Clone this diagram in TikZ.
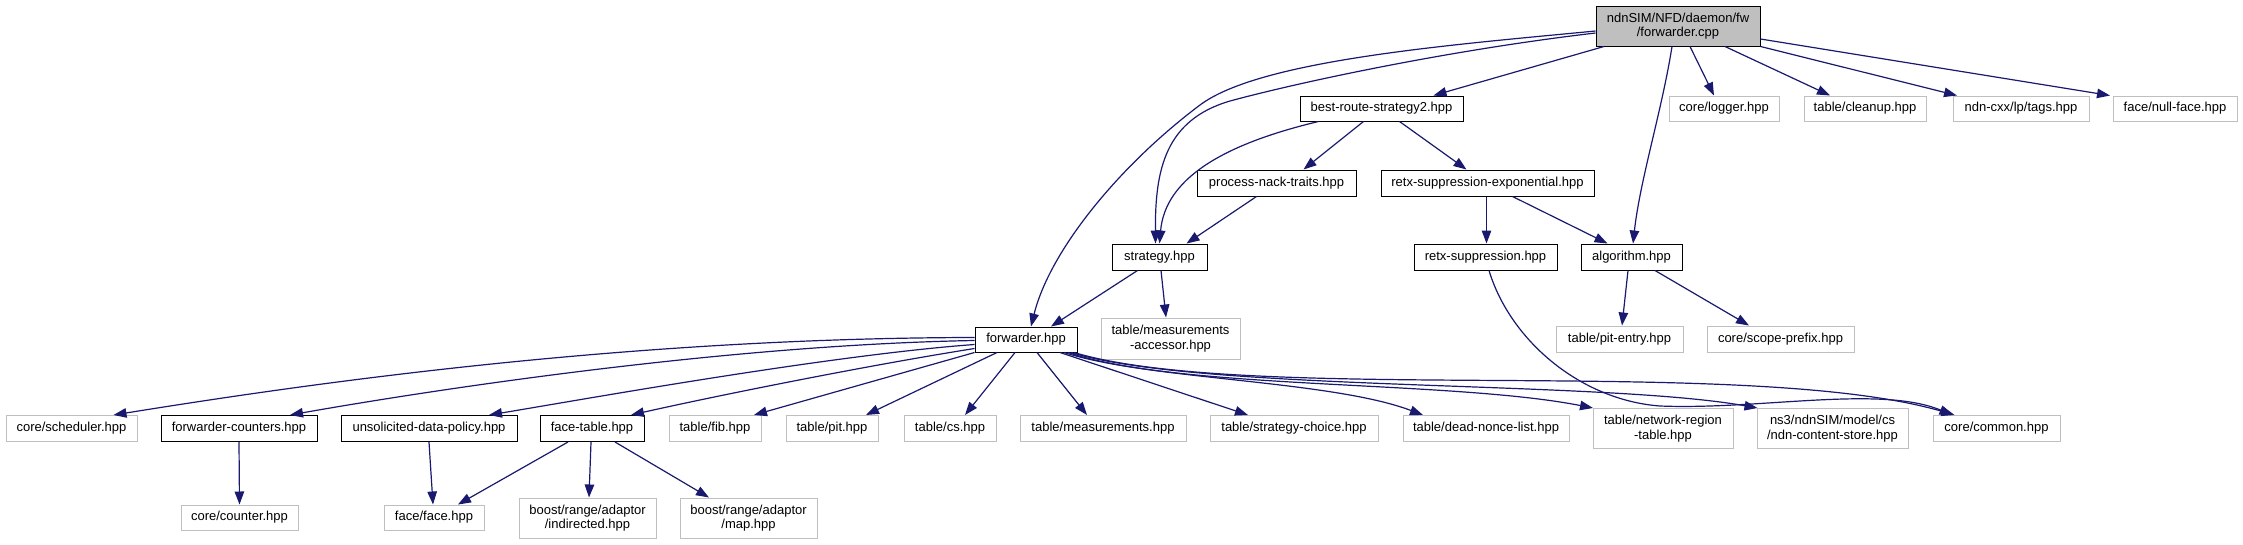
\documentclass[tikz,border=0pt]{standalone}
\usepackage{fontspec}
\setmainfont{Liberation Sans}
\usetikzlibrary{arrows.meta,calc}
\definecolor{edgeblue}{HTML}{191970}
\definecolor{lgray}{HTML}{BFBFBF}
\begin{document}
\begin{tikzpicture}[x=1pt,y=-1pt,
  box/.style={draw=black,line width=1pt,inner sep=0pt,font=\fontsize{13}{14.5}\selectfont,align=center,fill=white},
  ubox/.style={box,draw=lgray},
  dep/.style={draw=edgeblue,line width=1.2pt,-{Triangle[length=13pt,width=9.5pt]}},
]
\useasboundingbox[fill=white] (0,0) rectangle (2243,544);
% row 1
\node[box,fill=lgray,minimum width=164pt,minimum height=40pt] (root) at (1678,26) {ndnSIM/NFD/daemon/fw\\/forwarder.cpp};
% row 2
\node[box,minimum width=163pt,minimum height=25pt] (br) at (1381.5,108.5) {best-route-strategy2.hpp};
\node[ubox,minimum width=110pt,minimum height=25pt] (logger) at (1724,108.5) {core/logger.hpp};
\node[ubox,minimum width=122pt,minimum height=25pt] (cleanup) at (1865,108.5) {table/cleanup.hpp};
\node[ubox,minimum width=136pt,minimum height=25pt] (tags) at (2021,108.5) {ndn-cxx/lp/tags.hpp};
\node[ubox,minimum width=124pt,minimum height=25pt] (nullface) at (2175,108.5) {face/null-face.hpp};
% row 3
\node[box,minimum width=159pt,minimum height=26pt] (pnt) at (1276.5,183) {process-nack-traits.hpp};
\node[box,minimum width=213pt,minimum height=26pt] (rse) at (1487.5,183) {retx-suppression-exponential.hpp};
% row 4
\node[box,minimum width=95pt,minimum height=26pt] (strat) at (1159.5,257) {strategy.hpp};
\node[box,minimum width=143pt,minimum height=26pt] (rs) at (1485.5,257) {retx-suppression.hpp};
\node[box,minimum width=101pt,minimum height=26pt] (algo) at (1631.5,257) {algorithm.hpp};
% row 5
\node[ubox,minimum width=139pt,minimum height=41pt] (macc) at (1170.5,338.5) {table/measurements\\-accessor.hpp};
\node[box,minimum width=102pt,minimum height=25pt] (fwd) at (1026,339.5) {forwarder.hpp};
\node[ubox,minimum width=127pt,minimum height=26pt] (pitentry) at (1619.5,339) {table/pit-entry.hpp};
\node[ubox,minimum width=147pt,minimum height=26pt] (scope) at (1780.5,339) {core/scope-prefix.hpp};
% row 6
\node[ubox,minimum width=131pt,minimum height=26pt] (sched) at (71.5,428.5) {core/scheduler.hpp};
\node[box,minimum width=156pt,minimum height=26pt] (fcnt) at (239,428.5) {forwarder-counters.hpp};
\node[box,minimum width=176pt,minimum height=26pt] (udp) at (429,428.5) {unsolicited-data-policy.hpp};
\node[box,minimum width=104pt,minimum height=26pt] (ftab) at (592,428.5) {face-table.hpp};
\node[ubox,minimum width=92pt,minimum height=26pt] (fib) at (715,428.5) {table/fib.hpp};
\node[ubox,minimum width=92pt,minimum height=26pt] (pit) at (832,428.5) {table/pit.hpp};
\node[ubox,minimum width=92pt,minimum height=26pt] (cs) at (950,428.5) {table/cs.hpp};
\node[ubox,minimum width=166pt,minimum height=26pt] (meas) at (1103,428.5) {table/measurements.hpp};
\node[ubox,minimum width=168pt,minimum height=26pt] (sc) at (1294,428.5) {table/strategy-choice.hpp};
\node[ubox,minimum width=166pt,minimum height=26pt] (dnl) at (1486,428.5) {table/dead-nonce-list.hpp};
\node[ubox,minimum width=140pt,minimum height=40pt] (nrt) at (1663,428.5) {table/network-region\\-table.hpp};
\node[ubox,minimum width=151pt,minimum height=40pt] (ncs) at (1832.5,428.5) {ns3/ndnSIM/model/cs\\/ndn-content-store.hpp};
\node[ubox,minimum width=127pt,minimum height=26pt] (common) at (1996.5,428.5) {core/common.hpp};
% row 7
\node[ubox,minimum width=117pt,minimum height=25pt] (counter) at (239.5,517.5) {core/counter.hpp};
\node[ubox,minimum width=100pt,minimum height=25pt] (face) at (434,517.5) {face/face.hpp};
\node[ubox,minimum width=137pt,minimum height=40pt] (indir) at (587.5,518) {boost/range/adaptor\\/indirected.hpp};
\node[ubox,minimum width=137pt,minimum height=40pt] (map) at (748.5,518) {boost/range/adaptor\\/map.hpp};

% edges from root
\draw[dep] ([yshift=-5pt]root.west) .. controls (1450,45) and (1260,60) .. (1200,105) .. controls (1120,165) and (1050,250) .. ([xshift=5pt]fwd.north);
\draw[dep] ([yshift=-7pt]root.west) .. controls (1450,50) and (1300,82) .. (1230,101) .. controls (1165,120) and (1155,170) .. ([xshift=-4pt]strat.north);
\draw[dep] ([xshift=-74pt]root.south) -- ([xshift=52pt]br.north);
\draw[dep] ([xshift=-6pt]root.south) .. controls (1662,110) and (1640,180) .. ([xshift=1.5pt]algo.north);
\draw[dep] ([xshift=12pt]root.south) -- ([xshift=-10pt]logger.north);
\draw[dep] ([xshift=47pt]root.south) -- ([xshift=-35pt]cleanup.north);
\draw[dep] (root.south east) -- ([xshift=-64pt]tags.north);
\draw[dep] ([yshift=-13pt]root.east) -- ([xshift=-65pt]nullface.north);
% best-route
\draw[dep] ([xshift=-63pt]br.south) .. controls (1220,145) and (1165,180) .. ([xshift=0pt]strat.north);
\draw[dep] ([xshift=-18pt]br.south) -- ([xshift=27pt]pnt.north);
\draw[dep] ([xshift=18pt]br.south) -- ([xshift=-21pt]rse.north);
\draw[dep] ([xshift=-20pt]pnt.south) -- ([xshift=27pt]strat.north);
\draw[dep] ([xshift=-1pt]rse.south) -- ([xshift=1pt]rs.north);
\draw[dep] ([xshift=25pt]rse.south) -- ([xshift=-24pt]algo.north);
% strategy, algorithm, retx
\draw[dep] ([xshift=-22pt]strat.south) -- ([xshift=25pt]fwd.north);
\draw[dep] ([xshift=1.5pt]strat.south) -- ([xshift=-4.5pt]macc.north);
\draw[dep] ([xshift=-3.5pt]algo.south) -- ([xshift=2.5pt]pitentry.north);
\draw[dep] ([xshift=23.5pt]algo.south) -- ([xshift=-31.5pt]scope.north);
\draw[dep] ([xshift=3.5pt]rs.south) .. controls (1510,340) and (1580,400) .. (1660,406) .. controls (1760,410) and (1880,385) .. ([xshift=-44pt]common.north);
% forwarder.hpp
\draw[dep] ([yshift=2pt]fwd.west) .. controls (620,338) and (300,385) .. ([xshift=42pt]sched.north);
\draw[dep] ([yshift=-1pt]fwd.west) .. controls (720,345) and (420,392) .. ([xshift=51pt]fcnt.north);
\draw[dep] ([yshift=-5pt]fwd.west) .. controls (830,355) and (580,400) .. ([xshift=60pt]udp.north);
\draw[dep] ([yshift=-9pt]fwd.west) .. controls (870,365) and (720,395) .. ([xshift=39pt]ftab.north);
\draw[dep] (fwd.south west) -- ([xshift=39pt]fib.north);
\draw[dep] ([xshift=-29pt]fwd.south) -- ([xshift=34pt]pit.north);
\draw[dep] ([xshift=-11pt]fwd.south) -- ([xshift=15pt]cs.north);
\draw[dep] ([xshift=11pt]fwd.south) -- ([xshift=-16pt]meas.north);
\draw[dep] ([xshift=34pt]fwd.south) -- ([xshift=-46pt]sc.north);
\draw[dep] ([xshift=38pt]fwd.south) .. controls (1150,380) and (1330,380) .. ([xshift=-63pt]dnl.north);
\draw[dep] ([xshift=42pt]fwd.south) .. controls (1180,390) and (1450,380) .. ([xshift=-70pt]nrt.north);
\draw[dep] ([xshift=45pt]fwd.south) .. controls (1200,392) and (1600,380) .. ([xshift=-75pt]ncs.north);
\draw[dep] ([xshift=48pt]fwd.south) .. controls (1250,405) and (1750,355) .. ([xshift=-42pt]common.north);
% lower
\draw[dep] (fcnt.south) -- (counter.north);
\draw[dep] (udp.south) -- ([xshift=-1pt]face.north);
\draw[dep] ([xshift=-24pt]ftab.south) -- ([xshift=24pt]face.north);
\draw[dep] ([xshift=-1pt]ftab.south) -- ([xshift=1.5pt]indir.north);
\draw[dep] ([xshift=23pt]ftab.south) -- ([xshift=-39.5pt]map.north);
\end{tikzpicture}
\end{document}
